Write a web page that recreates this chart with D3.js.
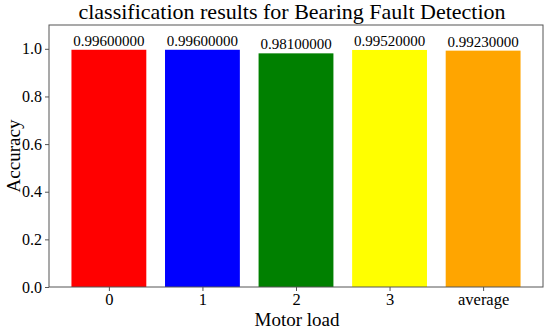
<!DOCTYPE html>
<html><head><meta charset="utf-8">
<script src="https://cdn.jsdelivr.net/npm/d3@7"></script>
<style>body{margin:0;background:#fff}svg{display:block}svg text{font-family:"Liberation Serif","DejaVu Serif",serif !important;fill:#000}</style>
</head><body>
<script>
const categories = ["0", "1", "2", "3", "average"];
const accuracy = [0.996, 0.996, 0.981, 0.9952, 0.9923];
const barColors = ["#ff0000", "#0000ff", "#008000", "#ffff00", "#ffa500"];
const yTicks = [0, 0.2, 0.4, 0.6, 0.8, 1.0];
const titleText = "classification results for Bearing Fault Detection";
const xLabel = "Motor load";
const yLabel = "Accuracy";

const W = 550, H = 333;
const m = {left: 49, right: 543, top: 25, bottom: 287};
const svg = d3.select("body").append("svg").attr("width", W).attr("height", H);

const x = d3.scaleLinear().domain([-0.64, 4.64]).range([m.left, m.right]);
const y = d3.scaleLinear().domain([0, 1.1]).range([m.bottom, m.top]);
const bw = x(0.8) - x(0);

svg.selectAll("rect.bar").data(accuracy).join("rect").attr("class", "bar")
  .attr("x", (d, i) => x(i) - bw / 2).attr("width", bw)
  .attr("y", d => y(d)).attr("height", d => y(0) - y(d))
  .attr("fill", (d, i) => barColors[i]);

svg.selectAll("text.val").data(accuracy).join("text").attr("class", "val")
  .attr("x", (d, i) => x(i)).attr("y", d => y(d) - 4)
  .attr("text-anchor", "middle").attr("font-size", 15)
  .text(d => d.toFixed(8));

svg.append("rect").attr("x", m.left).attr("y", m.top)
  .attr("width", m.right - m.left).attr("height", m.bottom - m.top)
  .attr("fill", "none").attr("stroke", "#555").attr("stroke-width", 1);

const yAxis = d3.axisLeft(y).tickValues(yTicks).tickFormat(d3.format(".1f")).tickSize(4).tickPadding(3);
const gy = svg.append("g").attr("transform", `translate(${m.left},0)`).call(yAxis)
  .attr("font-family", null).attr("font-size", 16);
gy.select(".domain").remove();
gy.selectAll("line").attr("stroke", "#555");

const xAxis = d3.axisBottom(x).tickValues(d3.range(categories.length)).tickFormat(i => categories[i]).tickSize(4).tickPadding(2);
const gx = svg.append("g").attr("transform", `translate(0,${m.bottom})`).call(xAxis)
  .attr("font-family", null).attr("font-size", 16.5);
gx.select(".domain").remove();
gx.selectAll("line").attr("stroke", "#555");

svg.append("text").attr("x", (m.left + m.right) / 2 - 4).attr("y", 19)
  .attr("text-anchor", "middle").attr("font-size", 22).text(titleText);
svg.append("text").attr("x", (m.left + m.right) / 2 + 1).attr("y", 326)
  .attr("text-anchor", "middle").attr("font-size", 19).text(xLabel);
svg.append("text").attr("transform", `translate(20,${(m.top + m.bottom) / 2}) rotate(-90)`)
  .attr("text-anchor", "middle").attr("font-size", 19).text(yLabel);
</script>
</body></html>
